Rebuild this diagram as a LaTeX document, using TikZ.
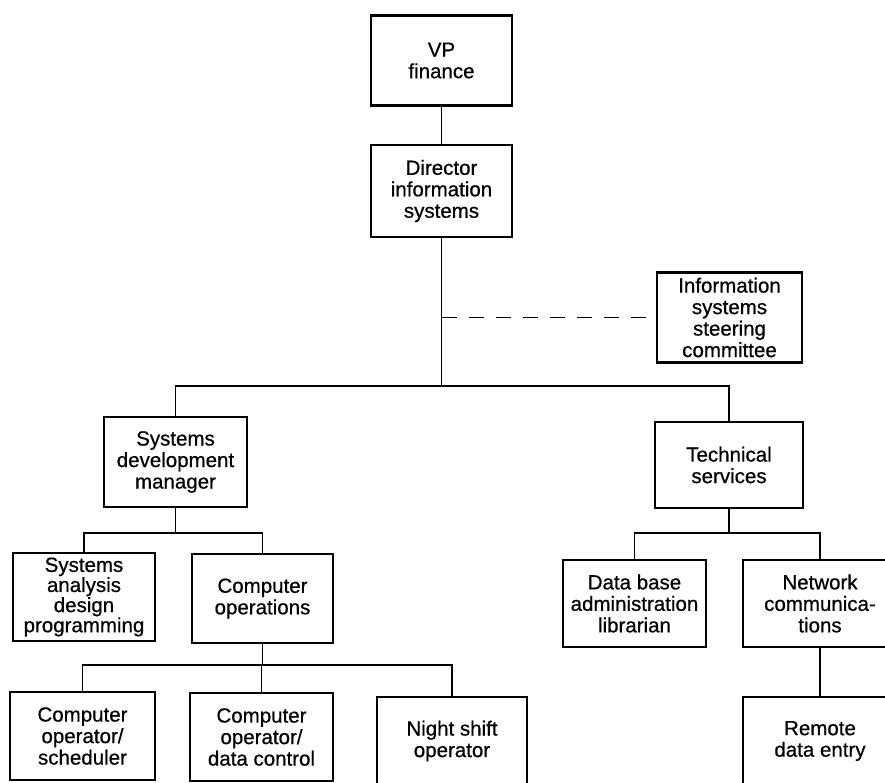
\documentclass[tikz,border=0pt]{standalone}
\usepackage{fontspec}
\setmainfont{Liberation Sans}
\newfontfamily\chartfont{Liberation Sans}[FakeBold=0.6]
\usepackage{tikz}

\tikzset{
  unit/.style={draw, line width=2.4pt, minimum width=143pt, minimum height=90pt,
    inner sep=2pt, align=center, font=\chartfont\fontsize{20.5}{21.5}\selectfont},
  link/.style={line width=1.3pt},
  advisory/.style={line width=1.3pt, dash pattern=on 15pt off 12pt}
}

\begin{document}
\begin{tikzpicture}[x=1pt,y=-1pt]
	\useasboundingbox (0,0) rectangle (885,783);
	\clip (0,0) rectangle (885,783);
	% top of the chart
	\node[unit, minimum width=141pt] (vp) at (441.5,60.5) {VP\\finance};
	\node[unit, minimum width=141pt, minimum height=92pt] (dir) at (441.5,191) {Director\\information\\systems};
	\node[unit, minimum width=145pt] (steer) at (729.5,317.5) {Information\\systems\\steering\\committee};
	% second level
	\node[unit] (sdm) at (175.5,462) {Systems\\development\\manager};
	\node[unit, minimum width=148pt, minimum height=86pt] (tech) at (729,465) {Technical\\services};
	% third level
	\node[unit, minimum width=142pt, minimum height=88pt, font=\chartfont\fontsize{20.5}{19}\selectfont] (sad) at (84,597) {Systems\\analysis\\design\\programming};
	\node[unit, minimum width=141pt, minimum height=89pt] (ops) at (262.5,598.5) {Computer\\operations};
	\node[unit, minimum height=87pt] (dba) at (634.5,603.5) {Data base\\administration\\librarian};
	\node[unit, minimum width=154pt, minimum height=87pt] (net) at (820,603.5) {Network\\communica-\\tions};
	% bottom row
	\node[unit, minimum width=145pt, minimum height=88pt] (sched) at (82.5,736) {Computer\\operator/\\scheduler};
	\node[unit, minimum height=88pt] (dctl) at (261.5,737) {Computer\\operator/\\data control};
	\node[unit, minimum width=150pt, minimum height=88pt] (night) at (452,741) {Night shift\\operator};
	\node[unit, minimum width=154pt, minimum height=88pt] (remote) at (820,741) {Remote\\data entry};

	% bus lines
	\coordinate (mainbus) at (0,386);
	\coordinate (sdmbus) at (0,533);
	\coordinate (techbus) at (0,533);
	\coordinate (opsbus) at (0,665);

	\draw[link] (vp) -- (dir);
	\draw[link] (dir.south) -- (dir.south |- mainbus);
	\draw[link] (sdm.north) |- (dir.south |- mainbus) -| (tech.north);
	\draw[advisory] (dir.south |- steer.west) -- (steer.west);

	\draw[link] (sdm.south) -- (sdm.south |- sdmbus);
	\draw[link] (sad.north) |- (sdm.south |- sdmbus) -| (ops.north);

	\draw[link] (tech.south) -- (tech.south |- techbus);
	\draw[link] (dba.north) |- (tech.south |- techbus) -| (net.north);

	\draw[link] (ops.south) -- (ops.south |- opsbus);
	\draw[link] (sched.north) |- (ops.south |- opsbus) -| (night.north);
	\draw[link] (dctl.north) -- (dctl.north |- opsbus);

	\draw[link] (net) -- (remote);
\end{tikzpicture}
\end{document}
